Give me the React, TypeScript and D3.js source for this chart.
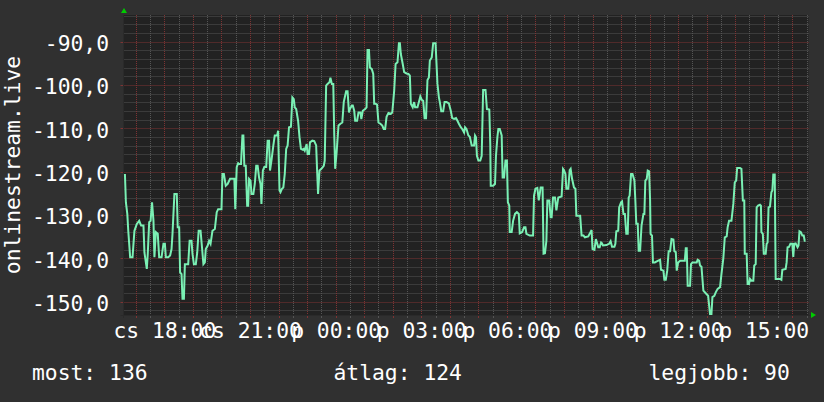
import React from "react";
import * as d3 from "d3";

// ---- data ----
// minutes since window start (16:33, Thursday)
const sampleMinutes = [
  3, 5, 8, 10, 14, 19, 21, 23, 28, 33, 37, 42, 44, 49, 51, 54, 57, 60, 63, 65, 68, 72, 75, 80, 84, 87, 89, 94, 98, 101,
  103, 107, 112, 114, 117, 119, 122, 124, 127, 129, 136, 139, 143, 145, 148, 152, 155, 158, 162, 165, 168, 171, 173, 177, 180, 183, 187, 192, 196, 199,
  206, 208, 211, 215, 219, 224, 233, 235, 238, 241, 243, 247, 250, 252, 254, 257, 260, 262, 264, 267, 269, 273, 276, 279, 282, 285, 288, 290, 293, 296,
  300, 303, 306, 308, 311, 315, 318, 323, 325, 328, 330, 333, 336, 339, 342, 345, 348, 352, 355, 358, 360, 363, 367, 370, 373, 377, 379, 381, 385, 387,
  390, 392, 397, 401, 405, 407, 409, 412, 416, 421, 423, 426, 429, 433, 435, 438, 441, 443, 445, 448, 452, 456, 460, 463, 468, 471, 474, 476, 480, 482,
  485, 487, 491, 494, 498, 500, 503, 508, 511, 513, 516, 518, 522, 525, 527, 530, 533, 536, 540, 544, 547, 550, 553, 557, 562, 565, 569, 572, 576, 579,
  581, 583, 587, 590, 595, 599, 602, 604, 608, 611, 613, 618, 621, 624, 627, 630, 633, 636, 639, 642, 644, 648, 651, 656, 660, 663, 665, 668, 672, 675,
  679, 684, 688, 691, 695, 699, 702, 705, 709, 712, 716, 718, 721, 725, 728, 732, 737, 739, 741, 743, 746, 750, 753, 756, 761, 764, 769, 771, 772, 777,
  781, 783, 786, 788, 791, 795, 797, 800, 803, 806, 808, 811, 812, 816, 819, 823, 827, 831, 833, 838, 842, 845, 847, 854, 861, 863, 866, 870, 873, 877,
  881, 883, 886, 889, 891, 895, 898, 900, 903, 907, 910, 914, 921, 924, 926, 929, 931, 935, 938, 940, 943, 947, 950, 952, 960, 963, 967, 970, 977, 980,
  984, 986, 990, 993, 996, 998, 1001, 1004, 1006, 1008, 1015, 1021, 1024, 1027, 1032, 1034, 1036, 1040, 1042, 1046, 1048, 1051, 1054, 1057, 1060, 1062, 1064, 1067, 1070, 1074,
  1076, 1078, 1081, 1083, 1086, 1089, 1093, 1095, 1097, 1100, 1102, 1105, 1107, 1108, 1111, 1113, 1117, 1122, 1128, 1130, 1135, 1137, 1140, 1143, 1146, 1149, 1152, 1156, 1158, 1161,
  1163, 1166, 1170, 1180, 1182, 1184, 1186, 1191, 1193, 1196, 1205, 1207, 1210, 1212, 1215, 1219, 1224, 1229, 1233, 1236, 1238, 1242, 1245, 1249, 1254, 1257, 1261, 1264, 1268, 1270,
  1273, 1278, 1282, 1285, 1288, 1290, 1296, 1299, 1302, 1305, 1306, 1310, 1312, 1315, 1317, 1320, 1324, 1326, 1329, 1331, 1334, 1338, 1340, 1341, 1344, 1346, 1350, 1352, 1354, 1356,
  1359, 1362, 1364, 1366, 1369, 1371, 1380, 1383, 1385, 1392, 1394, 1396, 1399, 1402, 1406, 1408, 1410, 1413, 1417, 1419, 1421, 1424, 1427, 1430, 1432, 1434,
];

const sampleValues = [
  -120.4, -126.9, -129.6, -133.5, -139.6, -139.6, -136.5, -133.5, -131.9, -131.2, -132.3, -132.3, -138.5, -142.3, -138.8, -131.5, -131.2, -126.9, -131.2, -139.6, -133.8, -134.2, -139.6, -139.6, -136.5, -136.5, -139.6, -139.6, -139.2, -137.7,
  -134.2, -125.0, -125.0, -132.7, -132.7, -143.1, -143.5, -149.2, -149.2, -141.2, -141.2, -135.8, -135.8, -138.8, -141.2, -141.2, -138.5, -133.5, -133.5, -137.3, -141.2, -140.8, -137.7, -136.9, -135.8, -136.5, -133.5, -133.1, -129.2, -128.5,
  -128.5, -120.4, -120.4, -123.1, -122.7, -121.5, -121.5, -128.5, -118.8, -117.9, -118.1, -118.1, -111.5, -111.5, -118.5, -118.5, -127.7, -127.7, -121.5, -121.9, -125.0, -125.0, -122.7, -118.5, -118.5, -121.2, -122.7, -127.3, -119.6, -118.8,
  -118.8, -112.7, -112.7, -119.6, -117.3, -113.8, -111.5, -111.5, -110.4, -124.2, -124.6, -123.8, -123.5, -120.4, -114.6, -113.8, -109.6, -109.5, -102.7, -103.1, -105.0, -105.4, -108.1, -111.9, -114.6, -114.8, -114.6, -115.0, -113.5, -115.8,
  -115.8, -113.1, -112.7, -112.8, -113.8, -119.6, -125.0, -119.6, -119.2, -118.5, -117.3, -100.0, -99.6, -99.2, -98.2, -99.6, -99.6, -111.2, -119.2, -115.4, -109.2, -108.8, -108.5, -103.8, -101.3, -101.3, -106.2, -105.4, -104.6, -104.6,
  -105.8, -108.1, -108.1, -106.2, -106.2, -107.7, -105.8, -105.4, -105.0, -91.8, -91.8, -95.8, -96.2, -97.3, -104.2, -104.2, -104.4, -108.5, -108.8, -109.2, -110.0, -110.0, -107.2, -106.3, -106.5, -106.2, -101.2, -95.0, -94.6, -90.2,
  -90.2, -92.7, -95.0, -96.9, -97.2, -97.3, -97.7, -104.2, -105.0, -103.8, -105.0, -105.0, -103.8, -102.5, -103.3, -103.5, -107.5, -107.5, -98.7, -98.1, -94.2, -93.5, -90.2, -90.2, -99.6, -102.7, -103.8, -105.9, -105.9, -103.8,
  -103.8, -104.1, -105.8, -107.5, -107.7, -107.5, -108.1, -108.8, -109.6, -110.0, -110.8, -109.6, -110.0, -111.5, -111.8, -113.8, -113.8, -111.5, -111.9, -116.2, -117.3, -117.3, -116.2, -101.0, -101.0, -105.4, -105.5, -113.5, -123.1, -123.1,
  -122.7, -116.2, -111.9, -110.0, -110.0, -111.5, -121.2, -121.2, -117.3, -117.3, -126.9, -127.7, -133.8, -133.8, -131.2, -129.6, -129.2, -129.6, -134.1, -133.8, -132.7, -132.7, -134.2, -134.6, -134.6, -125.4, -123.8, -123.6, -126.5, -123.5,
  -123.5, -138.8, -138.7, -135.8, -126.5, -126.5, -130.4, -130.4, -125.8, -125.8, -128.8, -125.8, -125.6, -119.2, -119.5, -120.4, -123.8, -123.8, -119.5, -119.2, -121.5, -123.5, -123.8, -130.0, -130.0, -134.6, -134.6, -135.0, -134.8, -134.2,
  -133.3, -137.7, -137.9, -135.4, -136.5, -137.3, -137.3, -136.2, -136.4, -136.9, -136.8, -136.5, -135.9, -137.2, -137.2, -136.5, -133.6, -133.5, -128.1, -126.9, -126.7, -129.6, -129.6, -134.2, -134.2, -125.8, -125.4, -120.4, -120.4, -121.9,
  -126.5, -131.9, -131.9, -138.1, -138.1, -132.3, -129.6, -129.6, -121.9, -121.5, -119.6, -119.8, -126.5, -134.2, -134.6, -140.8, -140.8, -140.5, -140.2, -142.5, -142.7, -144.8, -144.8, -142.7, -138.2, -138.2, -135.4, -135.5, -138.2, -138.4,
  -142.7, -140.8, -140.4, -140.4, -137.5, -137.5, -146.2, -146.2, -141.2, -140.8, -140.8, -140.2, -140.4, -141.5, -141.8, -147.3, -147.9, -148.5, -152.7, -152.7, -148.8, -148.5, -147.7, -146.9, -146.5, -143.5, -139.8, -135.0, -134.8, -132.7,
  -131.2, -131.2, -127.3, -122.3, -121.9, -119.0, -119.0, -119.2, -126.5, -126.5, -138.8, -138.8, -145.8, -145.8, -144.6, -145.0, -145.0, -141.5, -141.2, -128.1, -127.7, -127.5, -127.7, -133.8, -134.2, -138.8, -138.8, -136.5, -136.2, -128.1,
  -127.9, -124.6, -124.2, -120.5, -120.5, -144.6, -144.6, -144.8, -142.5, -142.3, -140.8, -137.3, -137.2, -136.5, -136.5, -139.5, -136.5, -136.4, -137.3, -136.9, -133.6, -133.8, -134.6, -134.6, -135.8, -135.8,
];

const windowStartMinuteOfDay = 16 * 60 + 33;
const windowLengthMinutes = 1440;

const yTickValues = [-150, -140, -130, -120, -110, -100, -90];
const yTickLabels = ["-150,0", "-140,0", "-130,0", "-120,0", "-110,0", "-100,0", "-90,0"];

const xLabelHours = [18, 21, 24, 27, 30, 33, 36, 39];
const xLabels = ["cs 18:00", "cs 21:00", "p 00:00", "p 03:00", "p 06:00", "p 09:00", "p 12:00", "p 15:00"];

const yAxisTitle = "onlinestream.live";
const legendItems = ["most: 136", "átlag: 124", "legjobb: 90"];

// ---- layout ----
const W = 824;
const H = 402;
const PL = 123.5;
const PR = 808.5;
const PT = 15;
const PB = 315;
const Y_MIN = -152.93;
const Y_MAX = -83.7;

const FONT = "'DejaVu Sans Mono', monospace";
const FS = 21.33;
const BG = "#303030";
const PLOT_BG = "#222222";
const MINOR = "#555555";
const MAJOR = "#7e3333";
const LINE = "#7af0b4";
const TEXT = "#ffffff";
const ARROW = "#00cc00";

export default function App() {
  const x = d3.scaleLinear().domain([0, windowLengthMinutes]).range([PL, PR]);
  const y = d3.scaleLinear().domain([Y_MIN, Y_MAX]).range([PB, PT]);

  const pts: [number, number][] = sampleMinutes.map((m, i) => [m, sampleValues[i]]);
  const line = d3
    .line<[number, number]>()
    .x((d) => x(d[0]))
    .y((d) => y(d[1]));

  // horizontal grid
  const hMinor: number[] = [];
  for (let v = -152; v <= -84; v += 2) if (v % 10 !== 0) hMinor.push(v);
  const hMajor = d3.range(-150, -89, 10);

  // vertical grid (minutes since window start)
  const firstHalf = Math.ceil(windowStartMinuteOfDay / 30) * 30 - windowStartMinuteOfDay;
  const vMinor: number[] = [];
  const vMajor: number[] = [];
  for (let m = firstHalf; m <= windowLengthMinutes; m += 30) {
    if ((m + windowStartMinuteOfDay) % 60 === 0) vMajor.push(m);
    else vMinor.push(m);
  }
  const px = (v: number) => Math.floor(v) + 0.5;

  return (
    <svg
      width={W}
      height={H}
      style={{ position: "absolute", left: 0, top: 0, display: "block" }}
      fontFamily={FONT}
    >
      <rect x={0} y={0} width={W} height={H} fill={BG} />
      <rect x={PL} y={PT} width={PR - PL} height={PB - PT} fill={PLOT_BG} />

      {hMinor.map((v) => (
        <line key={"hm" + v} x1={PL} x2={PR} y1={px(y(v))} y2={px(y(v))} stroke={MINOR} strokeDasharray="1,1" />
      ))}
      {vMinor.map((m) => (
        <g key={"vm" + m}>
          <line x1={px(x(m))} x2={px(x(m))} y1={PT} y2={PB} stroke={MINOR} strokeDasharray="1,1" />
          <line x1={px(x(m))} x2={px(x(m))} y1={PB} y2={PB + 3} stroke={MINOR} />
        </g>
      ))}
      {hMajor.map((v) => (
        <g key={"hM" + v}>
          <line x1={PL} x2={PR} y1={px(y(v))} y2={px(y(v))} stroke={MAJOR} strokeDasharray="1,1" />
          <line x1={PL - 3} x2={PL} y1={px(y(v))} y2={px(y(v))} stroke={MAJOR} />
        </g>
      ))}
      {vMajor.map((m) => (
        <g key={"vM" + m}>
          <line x1={px(x(m))} x2={px(x(m))} y1={PT} y2={PB} stroke={MAJOR} strokeDasharray="1,1" />
          <line x1={px(x(m))} x2={px(x(m))} y1={PB} y2={PB + 3} stroke={MAJOR} />
        </g>
      ))}

      {/* axes */}
      <line x1={PL} x2={PL} y1={PT} y2={PB + 3} stroke="#2a2a2a" />
      <line x1={PL - 3} x2={PR + 2} y1={PB + 0.5} y2={PB + 0.5} stroke="#2a2a2a" />
      <path d={`M${PL - 2.5},${PT - 2}L${PL + 3.5},${PT - 2}L${PL + 0.5},${PT - 7}Z`} fill={ARROW} />
      <path d={`M${PR + 2.5},${PB - 3}L${PR + 2.5},${PB + 3}L${PR + 7.5},${PB}Z`} fill={ARROW} />

      <path d={line(pts) || ""} fill="none" stroke={LINE} strokeWidth={2} strokeLinejoin="miter" />

      {yTickValues.map((v, i) => (
        <text key={"yl" + v} x={109} y={y(v) + 8.7} fill={TEXT} fontSize={FS} textAnchor="end">
          {yTickLabels[i]}
        </text>
      ))}
      {xLabelHours.map((h, i) => (
        <text
          key={"xl" + h}
          x={x(h * 60 - windowStartMinuteOfDay)}
          y={338}
          fill={TEXT}
          fontSize={FS}
          textAnchor="middle"
        >
          {xLabels[i]}
        </text>
      ))}
      <text transform="translate(20,165) rotate(-90)" fill={TEXT} fontSize={FS} textAnchor="middle">
        {yAxisTitle}
      </text>
      <text x={32} y={380} fill={TEXT} fontSize={FS}>
        {legendItems[0]}
      </text>
      <text x={333.5} y={380} fill={TEXT} fontSize={FS}>
        {legendItems[1]}
      </text>
      <text x={648.5} y={380} fill={TEXT} fontSize={FS}>
        {legendItems[2]}
      </text>
    </svg>
  );
}
